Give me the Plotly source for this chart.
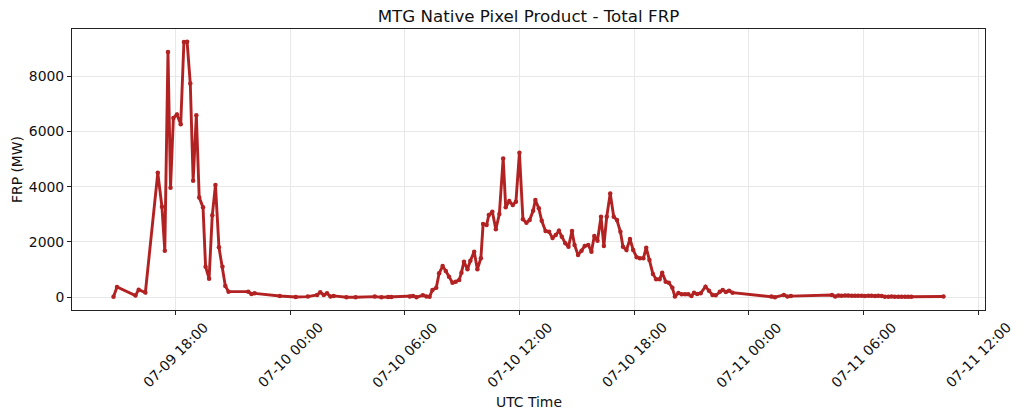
"""
MTG Native Pixel Product - Total FRP time series.

Line + marker chart of total Fire Radiative Power (MW) per scan,
styled after the matplotlib original (DejaVu Sans, firebrick line).
"""

import pandas as pd
import plotly.graph_objects as go

# --- data -------------------------------------------------------------------
DAY_09 = [
    "14:46", "14:57", "15:55", "16:05", "16:26", "17:05", "17:18", "17:27",
    "17:37", "17:45", "17:54", "18:05", "18:17", "18:27", "18:37", "18:47",
    "18:56", "19:06", "19:15", "19:27", "19:35", "19:46", "19:56", "20:06",
    "20:17", "20:28", "20:37", "20:47", "21:49", "21:59", "22:09", "23:28",
]
FRP_09 = [
    20, 372, 60, 275, 167, 4505, 3276, 1685,
    8880, 3963, 6493, 6616, 6265, 9241, 9250, 7737,
    4216, 6590, 3615, 3254, 1106, 672, 2965, 4060,
    1808, 1106, 408, 202, 202, 120, 140, 47,
]

DAY_10 = [
    "00:18", "00:56", "01:25", "01:35", "01:46", "01:56", "02:07", "02:17",
    "02:57", "03:26", "04:26", "04:47", "05:08", "05:18", "06:16", "06:26",
    "06:37", "06:57", "07:08", "07:18", "07:27", "07:39", "07:48", "07:59",
    "08:09", "08:19", "08:30", "08:40", "08:51", "08:58", "09:06", "09:17",
    "09:26", "09:38", "09:48", "09:59", "10:06", "10:17", "10:24", "10:35",
    "10:46", "10:57", "11:09", "11:17", "11:28", "11:39", "11:49", "12:00",
    "12:11", "12:22", "12:32", "12:43", "12:50", "13:01", "13:10", "13:22",
    "13:33", "13:44", "13:54", "14:04", "14:13", "14:24", "14:34", "14:45",
    "14:53", "15:04", "15:15", "15:25", "15:36", "15:46", "15:55", "16:05",
    "16:16", "16:25", "16:34", "16:45", "16:56", "17:06", "17:17", "17:25",
    "17:36", "17:47", "17:57", "18:08", "18:18", "18:29", "18:38", "18:48",
    "18:59", "19:09", "19:20", "19:28", "19:39", "19:49", "20:00", "20:08",
    "20:19", "20:29", "20:40", "20:50", "21:00", "21:08", "21:18", "21:29",
    "21:44", "21:55", "22:06", "22:16", "22:29", "22:38", "22:48", "22:58",
    "23:09",
]
FRP_10 = [
    10, 22, 83, 180, 83, 145, 22, 47,
    0, 0, 22, 0, 10, 10, 22, 47,
    0, 70, 30, 20, 264, 340, 867, 1130,
    950, 745, 528, 564, 625, 890, 1287, 1012,
    1323, 1649, 1012, 1410, 2650, 2614, 2975, 3095,
    2458, 3011, 5025, 3254, 3481, 3337, 3457, 5228,
    2820, 2697, 2795, 3131, 3518, 3218, 2770, 2397,
    2372, 2145, 2252, 2408, 2191, 1952, 1829, 2397,
    1891, 1529, 1685, 1855, 1891, 1649, 2216, 2046,
    2914, 1855, 2914, 3760, 2914, 2795, 2372, 1829,
    1710, 2108, 1710, 1446, 1410, 1410, 1793, 1349,
    842, 650, 650, 890, 564, 528, 340, 22,
    155, 108, 108, 108, 47, 166, 120, 145,
    383, 239, 83, 70, 202, 264, 190, 239,
    166,
]

DAY_11 = [
    "01:11", "01:22", "01:50", "02:01", "02:12", "04:21", "04:31", "04:41",
    "04:51", "05:02", "05:12", "05:23", "05:33", "05:43", "05:54", "06:04",
    "06:15", "06:25", "06:36", "06:46", "06:57", "07:07", "07:18", "07:28",
    "07:38", "07:49", "07:59", "08:10", "08:20", "08:30", "10:11",
]
FRP_11 = [
    22, 0, 83, 22, 40, 83, 22, 60,
    55, 65, 60, 55, 50, 58, 52, 48,
    55, 50, 45, 52, 40, 20, 18, 22,
    15, 20, 18, 15, 20, 18, 25,
]

TICK_TIMES = [
    "2025-07-09 18:00", "2025-07-10 00:00", "2025-07-10 06:00",
    "2025-07-10 12:00", "2025-07-10 18:00", "2025-07-11 00:00",
    "2025-07-11 06:00", "2025-07-11 12:00",
]
TICK_LABELS = [
    "07-09 18:00", "07-10 00:00", "07-10 06:00", "07-10 12:00",
    "07-10 18:00", "07-11 00:00", "07-11 06:00", "07-11 12:00",
]
Y_TICKS = [0, 2000, 4000, 6000, 8000]

FONT = "DejaVu Sans"
LINE_COLOR = "#B22222"
TEXT_COLOR = "#111111"

# --- build ------------------------------------------------------------------
times = pd.to_datetime(
    ["2025-07-09 " + t for t in DAY_09]
    + ["2025-07-10 " + t for t in DAY_10]
    + ["2025-07-11 " + t for t in DAY_11]
)
frp = FRP_09 + FRP_10 + FRP_11

# matplotlib-like 5% autoscale margins
t_pad = (times.max() - times.min()) * 0.05
y_pad = (max(frp) - min(frp)) * 0.05

fig = go.Figure(
    go.Scatter(
        x=times,
        y=frp,
        mode="lines+markers",
        line=dict(color=LINE_COLOR, width=2.9),
        marker=dict(color=LINE_COLOR, size=4.5),
        showlegend=False,
    )
)

axis_common = dict(
    showline=True,
    mirror=True,
    linecolor="#222222",
    linewidth=1,
    ticks="outside",
    ticklen=4,
    tickwidth=1,
    tickcolor="#222222",
    showgrid=True,
    gridcolor="#e8e8e8",
    gridwidth=0.8,
    zeroline=False,
    automargin=False,
    tickfont=dict(family=FONT, size=13.9, color=TEXT_COLOR),
)

fig.update_xaxes(
    range=[times.min() - t_pad, times.max() + t_pad],
    tickvals=pd.to_datetime(TICK_TIMES),
    showticklabels=False,
    **axis_common,
)
fig.update_yaxes(
    range=[min(frp) - y_pad, max(frp) + y_pad],
    tickvals=Y_TICKS,
    ticktext=[str(v) for v in Y_TICKS],
    title=dict(text="FRP (MW)", font=dict(family=FONT, size=13.9, color=TEXT_COLOR),
               standoff=2),
    **axis_common,
)

# rotated tick labels centred on the tick, like matplotlib rotation=45
for tv, lab in zip(pd.to_datetime(TICK_TIMES), TICK_LABELS):
    fig.add_annotation(
        x=tv, xref="x", y=-0.022, yref="paper",
        text=lab, textangle=-45, showarrow=False,
        xanchor="center", yanchor="top",
        font=dict(family=FONT, size=13.9, color=TEXT_COLOR),
    )

fig.add_annotation(
    x=0.5, xref="paper", y=-0.327, yref="paper",
    text="UTC Time", showarrow=False,
    xanchor="center", yanchor="middle",
    font=dict(family=FONT, size=13.9, color=TEXT_COLOR),
)

fig.update_layout(
    title=dict(
        text="MTG Native Pixel Product - Total FRP",
        x=0.5, xref="paper", xanchor="center",
        y=1 - 16 / 418, yref="container", yanchor="middle",
        font=dict(family=FONT, size=16.7, color=TEXT_COLOR),
    ),
    width=1024,
    height=418,
    margin=dict(l=72, r=39, t=29, b=108),
    paper_bgcolor="white",
    plot_bgcolor="white",
    font=dict(family=FONT),
)

# drop the default 8px page margin so the figure fills the window exactly
fig.write_html(
    "out.html",
    config={"displayModeBar": False},
    post_script="document.body.style.margin='0';",
)
